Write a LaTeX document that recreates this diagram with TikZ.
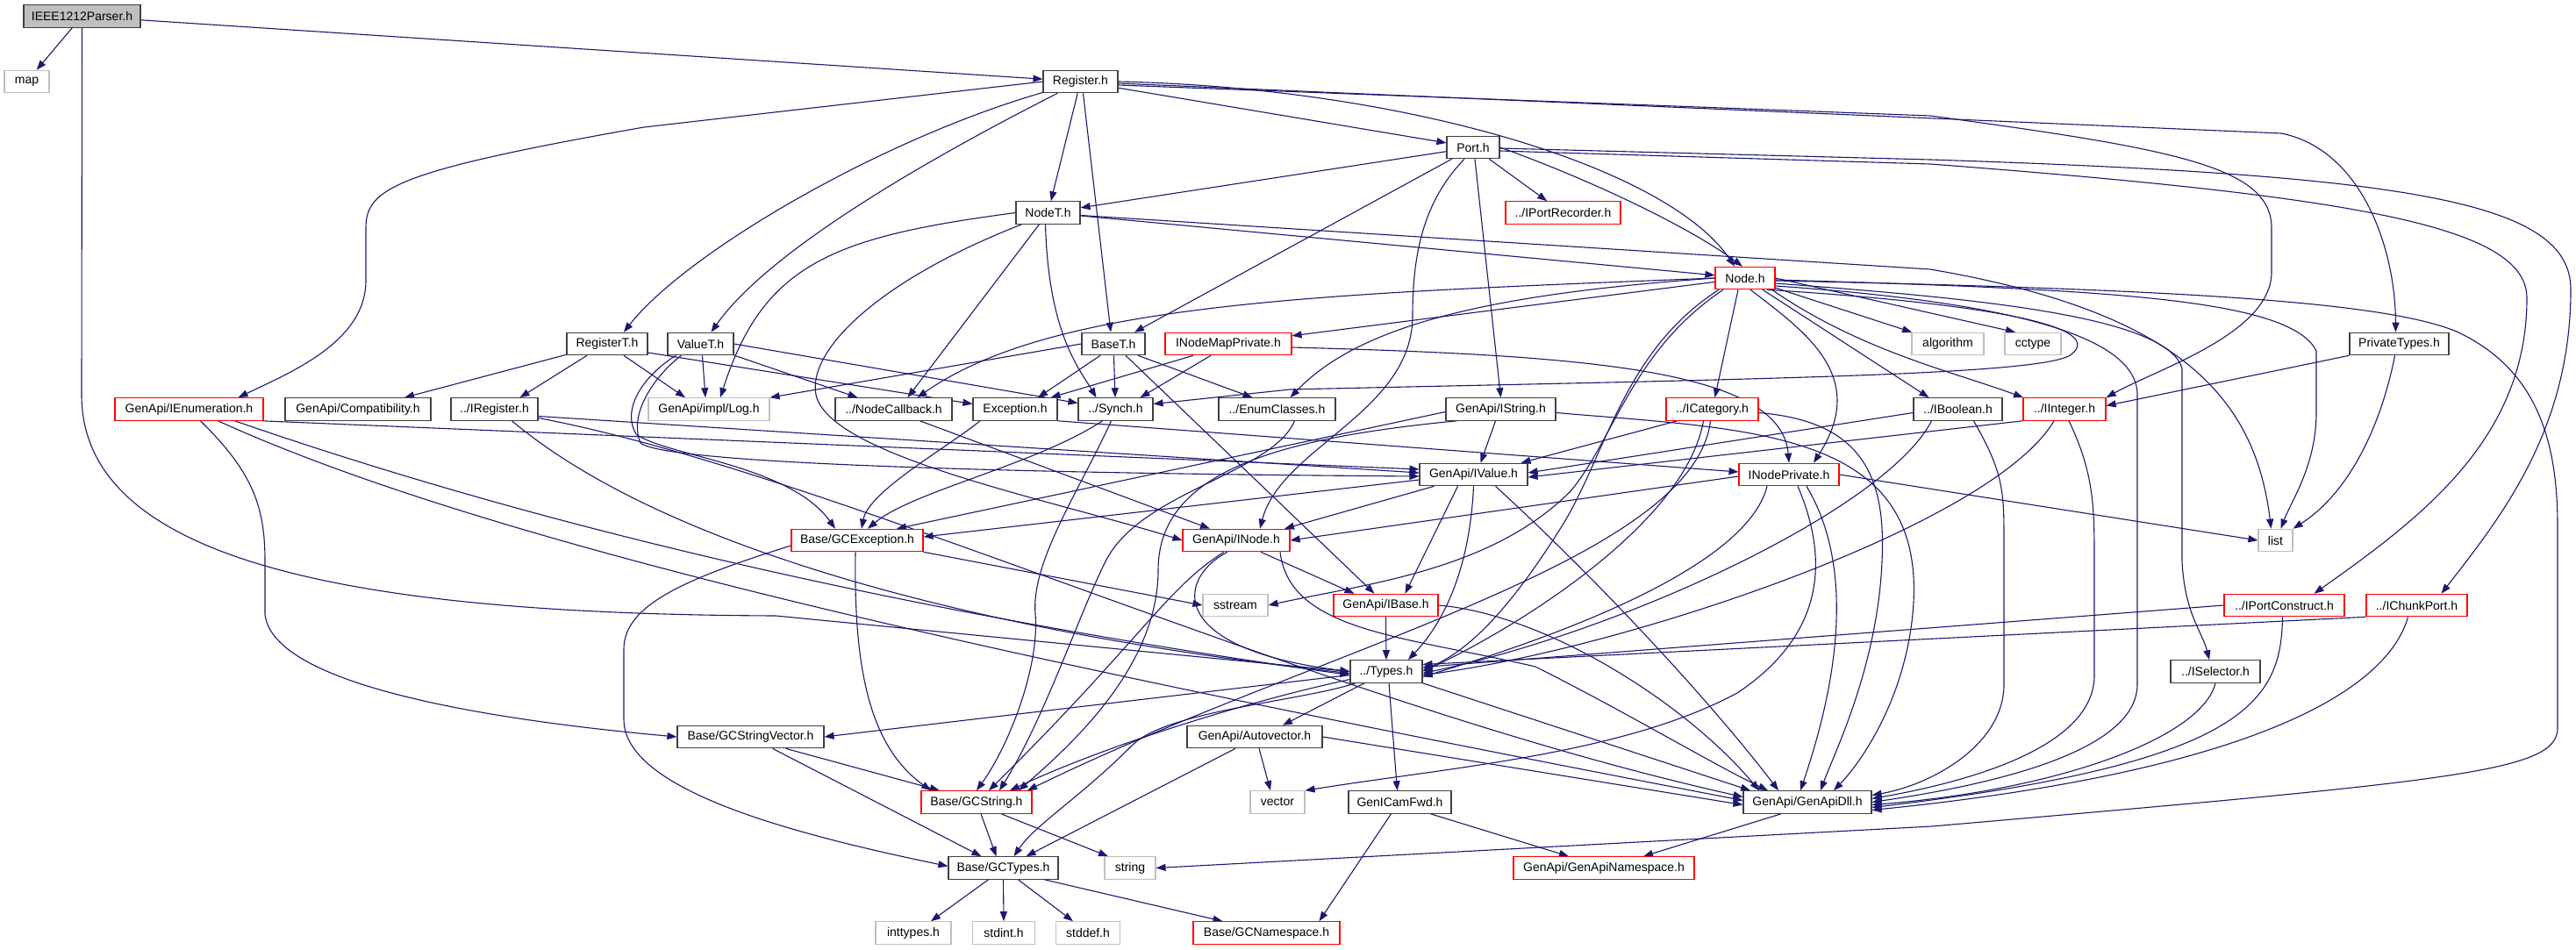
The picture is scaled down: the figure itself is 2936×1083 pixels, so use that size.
\documentclass[tikz,border=0pt]{standalone}
\usepackage{fontspec}
\setmainfont{Liberation Sans}
\usetikzlibrary{arrows.meta}
\definecolor{edgec}{HTML}{191970}
\definecolor{sysc}{HTML}{BFBFBF}
\definecolor{rootc}{HTML}{BFBFBF}
\definecolor{truncc}{HTML}{FF0000}
\newcommand\nodefont{\fontsize{14pt}{16pt}\selectfont}
\pgfdeclarelayer{bg}
\pgfsetlayers{bg,main}
\tikzset{
  nbox/.style={draw=black!75, fill=white, line width=1.1pt, minimum height=25.5pt, inner sep=1pt, font=\nodefont},
  ntrunc/.style={nbox, draw=truncc},
  nsys/.style={nbox, draw=sysc},
  dep/.style={draw=edgec, line width=1.1pt, -{Triangle[length=11pt,width=8pt]}}
}
\begin{document}
\begin{tikzpicture}[x=1pt,y=-1pt]
\useasboundingbox (0,0) rectangle (2936,1083);
% nodes
\node[nbox, fill=rootc, minimum width=133pt] (ieee) at (93.5,18.5) {IEEE1212Parser.h};
\node[nsys, minimum width=51pt] (map) at (30.5,93) {map};
\node[nbox, minimum width=85pt] (reg) at (1231.5,93) {Register.h};
\node[nbox, minimum width=73pt] (nodet) at (1194.5,242.5) {NodeT.h};
\node[nbox, minimum width=60pt] (port) at (1679,168) {Port.h};
\node[ntrunc, minimum width=131pt] (iportrec) at (1781.5,242.5) {../IPortRecorder.h};
\node[ntrunc, minimum width=68pt] (node) at (1989,317) {Node.h};
\node[nbox, minimum width=92pt] (registert) at (692,392) {RegisterT.h};
\node[nbox, minimum width=75pt] (valuet) at (798.5,392) {ValueT.h};
\node[nbox, minimum width=72pt] (baset) at (1269,392) {BaseT.h};
\node[ntrunc, minimum width=144pt] (inodemap) at (1400,392) {INodeMapPrivate.h};
\node[nsys, minimum width=82pt] (algorithm) at (2220,392) {algorithm};
\node[nsys, minimum width=64pt] (cctype) at (2317,392) {cctype};
\node[nbox, minimum width=113pt] (privtypes) at (2734.5,392) {PrivateTypes.h};
\node[ntrunc, minimum width=169pt] (ienum) at (215.5,466.5) {GenApi/IEnumeration.h};
\node[nbox, minimum width=166pt] (compat) at (408,466.5) {GenApi/Compatibility.h};
\node[nbox, minimum width=99pt] (iregister) at (563.5,466.5) {../IRegister.h};
\node[nsys, minimum width=138pt] (log) at (808,466.5) {GenApi/impl/Log.h};
\node[nbox, minimum width=133pt] (nodecb) at (1018.5,466.5) {../NodeCallback.h};
\node[nbox, minimum width=96pt] (exception) at (1157,466.5) {Exception.h};
\node[nbox, minimum width=85pt] (synch) at (1271.5,466.5) {../Synch.h};
\node[nbox, minimum width=133pt] (enumcl) at (1455.5,466.5) {../EnumClasses.h};
\node[nbox, minimum width=125pt] (istring) at (1710.5,466.5) {GenApi/IString.h};
\node[ntrunc, minimum width=105pt] (icategory) at (1951.5,466.5) {../ICategory.h};
\node[nbox, minimum width=101pt] (iboolean) at (2231.5,466.5) {../IBoolean.h};
\node[ntrunc, minimum width=94pt] (iinteger) at (2353,466.5) {../IInteger.h};
\node[nbox, minimum width=123pt] (ivalue) at (1679.5,541) {GenApi/IValue.h};
\node[ntrunc, minimum width=114pt] (inodepriv) at (2039,541) {INodePrivate.h};
\node[ntrunc, minimum width=150pt] (gcexc) at (977,616) {Base/GCException.h};
\node[ntrunc, minimum width=122pt] (inode) at (1409,616) {GenApi/INode.h};
\node[nsys, minimum width=39pt] (list) at (2593.5,616) {list};
\node[nsys, minimum width=74pt] (sstream) at (1408,690) {sstream};
\node[ntrunc, minimum width=119pt] (ibase) at (1579.5,690) {GenApi/IBase.h};
\node[ntrunc, minimum width=137pt] (iportcons) at (2603.5,690) {../IPortConstruct.h};
\node[ntrunc, minimum width=115pt] (ichunk) at (2754.5,690) {../IChunkPort.h};
\node[nbox, minimum width=82pt] (types) at (1580,765.5) {../Types.h};
\node[nbox, minimum width=102pt] (iselector) at (2525,765.5) {../ISelector.h};
\node[nbox, minimum width=167pt] (gcsv) at (855.5,840) {Base/GCStringVector.h};
\node[nbox, minimum width=154pt] (autovec) at (1430,840) {GenApi/Autovector.h};
\node[ntrunc, minimum width=126pt] (gcstring) at (1113,914.5) {Base/GCString.h};
\node[nsys, minimum width=62pt] (vector) at (1456,914.5) {vector};
\node[nbox, minimum width=117pt] (genicamfwd) at (1595.5,914.5) {GenICamFwd.h};
\node[nbox, minimum width=146pt] (genapidll) at (2060,914.5) {GenApi/GenApiDll.h};
\node[nbox, minimum width=125pt] (gctypes) at (1143.5,989.5) {Base/GCTypes.h};
\node[nsys, minimum width=58pt] (string) at (1288,989.5) {string};
\node[ntrunc, minimum width=206pt] (genapins) at (1828,989.5) {GenApi/GenApiNamespace.h};
\node[nsys, minimum width=86pt] (inttypes) at (1041,1063.5) {inttypes.h};
\node[nsys, minimum width=71pt] (stdint) at (1144,1063.5) {stdint.h};
\node[nsys, minimum width=73pt] (stddef) at (1240,1063.5) {stddef.h};
\node[ntrunc, minimum width=167pt] (gcns) at (1443.5,1063.5) {Base/GCNamespace.h};

\begin{pgfonlayer}{bg}
\fill[white] (0,0) rectangle (2936,1083);
% IEEE1212Parser.h
\draw[dep] (ieee) -- (map);
\draw[dep] (ieee) -- (reg);
\draw[dep] (ieee.south) -- (93,450) .. controls (93,640) and (400,700) .. (884,702) -- (types.west);
% Register.h
\draw[dep] (reg.west) -- (734,145) .. controls (450,195) and (417,215) .. (417,260) -- (417,320) .. controls (417,390) and (330,425) .. ([xshift=56pt]ienum.north);
\draw[dep] (reg) .. controls (1000,160) and (780,290) .. ([xshift=19pt]registert.north);
\draw[dep] (reg) .. controls (1080,170) and (880,280) .. ([xshift=12pt]valuet.north);
\draw[dep] (reg) -- (nodet);
\draw[dep] ([xshift=3pt]reg.south) -- ([xshift=-3pt]baset.north);
\draw[dep] (reg) -- (port);
\draw[dep] (reg.east) .. controls (1600,100) and (1900,190) .. ([xshift=-12pt]node.north);
\draw[dep] ([yshift=-2pt]reg.east) -- (2600,152) .. controls (2690,170) and (2730,280) .. ([xshift=-4pt]privtypes.north);
\draw[dep] ([yshift=-4pt]reg.east) -- (2200,132) .. controls (2480,170) and (2589,190) .. (2589,260) -- (2589,310) .. controls (2589,380) and (2460,420) .. (iinteger.north east);
% NodeT.h
\draw[dep] (nodet.west) .. controls (950,270) and (870,300) .. ([xshift=13pt]log.north);
\draw[dep] ([xshift=-30pt]nodet.south) .. controls (1000,320) and (920,400) .. (930,450) .. controls (945,520) and (1200,570) .. (inode.west);
\draw[dep] (nodet) -- ([xshift=16pt]nodecb.north);
\draw[dep] ([xshift=-3pt]nodet.south) .. controls (1195,380) and (1230,420) .. ([xshift=-22pt]synch.north);
\draw[dep] (nodet) -- (node);
\draw[dep] ([yshift=-3pt]nodet.east) -- (2200,307) .. controls (2480,355) and (2570,450) .. ([xshift=-5pt]list.north);
% Port.h
\draw[dep] (port) -- (nodet);
\draw[dep] (port) -- ([xshift=24pt]baset.north);
\draw[dep] (port) -- (iportrec);
\draw[dep] (port.east) .. controls (1800,200) and (1920,255) .. ([xshift=-3pt]node.north);
\draw[dep] ([xshift=2pt]port.south) -- (istring.north);
\draw[dep] ([xshift=-10pt]port.south) .. controls (1622,230) and (1610,290) .. (1610,360) .. controls (1610,470) and (1460,510) .. ([xshift=27pt]inode.north);
\draw[dep] ([yshift=-4pt]port.east) -- (2200,187) .. controls (2700,225) and (2880,260) .. (2880,340) .. controls (2880,500) and (2760,590) .. ([xshift=34pt]iportcons.north);
\draw[dep] ([yshift=-1pt]port.east) -- (2200,182) .. controls (2750,200) and (2930,230) .. (2930,330) .. controls (2930,490) and (2850,590) .. ([xshift=28pt]ichunk.north);
% Node.h
\draw[dep] (node) -- (inodemap);
\draw[dep] (node.west) .. controls (1500,335) and (1200,345) .. ([xshift=27pt]nodecb.north);
\draw[dep] ([xshift=25pt]node.south) .. controls (2250,345) and (2400,370) .. (2362,403) .. controls (2340,428) and (2000,432) .. (1470,444) -- ([yshift=6pt]synch.east);
\draw[dep] (node.west) .. controls (1700,335) and (1550,370) .. ([xshift=15pt]enumcl.north);
\draw[dep] ([xshift=-8pt]node.south) -- ([xshift=3pt]icategory.north);
\draw[dep] ([xshift=6pt]node.south) .. controls (2060,380) and (2130,430) .. ([xshift=28pt]inodepriv.north);
\draw[dep] ([xshift=20pt]node.south) -- ([xshift=-33pt]iboolean.north);
\draw[dep] ([xshift=-4pt]node.south east) .. controls (2120,400) and (2230,425) .. ([xshift=-47pt]iinteger.north);
\draw[dep] (node) -- (algorithm);
\draw[dep] (node.east) -- ([xshift=-20pt]cctype.north);
\draw[dep] ([yshift=-2pt]node.east) .. controls (2400,330) and (2610,340) .. (2640,400) -- (2640,470) .. controls (2640,530) and (2612,570) .. ([xshift=6pt]list.north);
\draw[dep] ([yshift=-6pt]node.east) .. controls (2250,340) and (2470,360) .. (2487,420) -- (2487,640) .. controls (2490,700) and (2510,720) .. ([xshift=-7pt]iselector.north);
\draw[dep] ([yshift=-9pt]node.east) .. controls (2300,345) and (2436,385) .. (2436,450) -- (2436,780) .. controls (2436,850) and (2300,890) .. ([yshift=0pt]genapidll.east);
\draw[dep] ([yshift=-3pt]node.east) .. controls (2500,330) and (2720,345) .. (2800,378) .. controls (2890,420) and (2915,500) .. (2915,600) -- (2915,830) .. controls (2915,880) and (2800,890) .. (2202,942) -- (string.east);
\draw[dep] ([xshift=-30pt]node.south) .. controls (1850,400) and (1830,520) .. (1780,600) .. controls (1730,680) and (1680,740) .. ([yshift=2pt]types.east);
\draw[dep] ([xshift=-25pt]node.south) .. controls (1860,400) and (1840,500) .. (1790,560) .. controls (1700,650) and (1560,665) .. (sstream.east);
% RegisterT.h
\draw[dep] (registert) -- ([xshift=53pt]compat.north);
\draw[dep] ([xshift=-23pt]registert.south) -- ([xshift=29pt]iregister.north);
\draw[dep] ([xshift=19pt]registert.south) -- ([xshift=-27pt]log.north);
\draw[dep] ([yshift=-10pt]registert.east) -- ([yshift=6pt]exception.west);
% ValueT.h
\draw[dep] ([xshift=2pt]valuet.south) -- ([xshift=-4pt]log.north);
\draw[dep] (valuet) -- ([xshift=-41pt]nodecb.north);
\draw[dep] (valuet.east) -- ([yshift=7pt]synch.west);
\draw[dep] ([xshift=-28pt]valuet.south) .. controls (745,420) and (705,460) .. (725,495) .. controls (760,520) and (900,530) .. ([xshift=-25pt]gcexc.north);
\draw[dep] ([xshift=-22pt]valuet.south) .. controls (750,425) and (715,470) .. (730,505) .. controls (760,530) and (1200,540) .. ([yshift=-2pt]ivalue.west);
% BaseT.h
\draw[dep] (baset.west) -- (log.north east);
\draw[dep] ([xshift=-15pt]baset.south) -- ([xshift=26pt]exception.north);
\draw[dep] (baset) -- (synch);
\draw[dep] ([xshift=28pt]baset.south) -- ([xshift=-28pt]enumcl.north);
\draw[dep] ([xshift=14pt]baset.south) -- ([xshift=-13pt]ibase.north);
% INodeMapPrivate.h
\draw[dep] ([xshift=-40pt]inodemap.south) -- ([xshift=-8pt]exception.north east);
\draw[dep] ([xshift=-20pt]inodemap.south) -- ([xshift=28pt]synch.north);
\draw[dep] ([yshift=-4pt]inodemap.east) .. controls (1800,405) and (2030,420) .. (inodepriv.north);
% GenApi/IEnumeration.h
\draw[dep] ([xshift=-2pt]ienum.south east) -- ([yshift=6pt]ivalue.west);
\draw[dep] ([xshift=52pt]ienum.south) .. controls (500,560) and (900,680) .. ([yshift=-4pt]types.west);
\draw[dep] ([xshift=33pt]ienum.south) .. controls (600,640) and (1300,780) .. ([yshift=2pt]genapidll.west);
\draw[dep] ([xshift=13pt]ienum.south) .. controls (290,540) and (302,580) .. (302,640) -- (302,700) .. controls (310,780) and (550,820) .. (gcsv.west);
% ../IRegister.h
\draw[dep] ([yshift=-8pt]iregister.east) -- ([yshift=2pt]ivalue.west);
\draw[dep] ([xshift=20pt]iregister.south) .. controls (750,620) and (1100,720) .. ([yshift=-2pt]types.west);
\draw[dep] ([yshift=-10pt]iregister.east) .. controls (950,540) and (1500,800) .. ([yshift=6pt]genapidll.west);
% ../NodeCallback.h
\draw[dep] ([xshift=30pt]nodecb.south) -- ([xshift=-30pt]inode.north);
% Exception.h
\draw[dep] ([xshift=-40pt]exception.south) .. controls (1080,510) and (990,560) .. ([xshift=5pt]gcexc.north);
\draw[dep] (exception.south east) -- ([yshift=3pt]inodepriv.west);
% ../Synch.h
\draw[dep] ([xshift=-15pt]synch.south) .. controls (1180,530) and (1040,560) .. ([xshift=12pt]gcexc.north);
\draw[dep] ([xshift=-5pt]synch.south) .. controls (1230,560) and (1175,640) .. (1180,700) .. controls (1185,760) and (1150,850) .. (gcstring.north);
% ../EnumClasses.h
\draw[dep] ([xshift=20pt]enumcl.south) .. controls (1450,540) and (1300,560) .. (1260,640) .. controls (1230,700) and (1190,820) .. ([xshift=26pt]gcstring.north);
% GenApi/IString.h
\draw[dep] ([xshift=-6pt]istring.south) -- ([xshift=8pt]ivalue.north);
\draw[dep] ([yshift=-3pt]istring.west) -- ([xshift=45pt]gcexc.north);
\draw[dep] ([xshift=-50pt]istring.south) .. controls (1450,500) and (1320,540) .. (1320,650) .. controls (1320,760) and (1220,850) .. ([xshift=48pt]gcstring.north);
\draw[dep] ([yshift=-4pt]istring.east) .. controls (2000,490) and (2200,490) .. (2180,700) .. controls (2170,800) and (2120,870) .. ([xshift=30pt]genapidll.north);
% ../ICategory.h
\draw[dep] ([xshift=-40pt]icategory.south) -- ([xshift=-8pt]ivalue.north east);
\draw[dep] ([xshift=-10pt]icategory.south) .. controls (1920,600) and (1720,720) .. (types.east);
\draw[dep] ([xshift=-2pt]icategory.south) .. controls (1930,640) and (1500,740) .. ([xshift=58pt]gcstring.north);
\draw[dep] ([yshift=-4pt]icategory.east) .. controls (2120,480) and (2150,540) .. (2145,640) .. controls (2140,760) and (2090,860) .. ([xshift=15pt]genapidll.north);
% ../IBoolean.h
\draw[dep] ([yshift=-4pt]iboolean.west) -- ([yshift=2pt]ivalue.east);
\draw[dep] ([xshift=-30pt]iboolean.south) .. controls (2150,580) and (1850,720) .. ([yshift=-2pt]types.east);
\draw[dep] ([xshift=18pt]iboolean.south) .. controls (2284,540) and (2284,560) .. (2284,620) -- (2284,780) .. controls (2284,850) and (2200,895) .. ([yshift=8pt]genapidll.east);
% ../IInteger.h
\draw[dep] (iinteger.south west) -- ([yshift=-3pt]ivalue.east);
\draw[dep] ([xshift=-12pt]iinteger.south) .. controls (2270,600) and (1850,740) .. ([yshift=-4pt]types.east);
\draw[dep] ([xshift=5pt]iinteger.south) .. controls (2387,540) and (2387,580) .. (2387,640) -- (2387,770) .. controls (2387,850) and (2250,890) .. ([yshift=4pt]genapidll.east);
% PrivateTypes.h
\draw[dep] (privtypes.south west) -- ([yshift=4pt]iinteger.east);
\draw[dep] ([xshift=-5pt]privtypes.south) .. controls (2715,480) and (2680,560) .. (list.north east);
% INodePrivate.h
\draw[dep] ([yshift=-2pt]inodepriv.west) -- (inode.east);
\draw[dep] (inodepriv.east) -- (list.west);
\draw[dep] ([xshift=-25pt]inodepriv.south) .. controls (1990,650) and (1760,730) .. ([yshift=-6pt]types.east);
\draw[dep] ([xshift=10pt]inodepriv.south) .. controls (2090,650) and (2070,730) .. (1980,790) .. controls (1850,860) and (1650,875) .. (vector.north east);
\draw[dep] ([xshift=20pt]inodepriv.south) .. controls (2110,640) and (2100,760) .. ([xshift=-8pt]genapidll.north);
% ../ISelector.h, ../IPortConstruct.h, ../IChunkPort.h
\draw[dep] (iselector.south) .. controls (2510,840) and (2350,900) .. ([yshift=-3pt]genapidll.east);
\draw[dep] (iportcons.west) -- ([yshift=5pt]types.east);
\draw[dep] ([xshift=-2pt]iportcons.south) .. controls (2600,800) and (2560,870) .. ([yshift=-6pt]genapidll.east);
\draw[dep] (ichunk.south west) -- ([yshift=8pt]types.east);
\draw[dep] ([xshift=-10pt]ichunk.south) .. controls (2720,790) and (2560,880) .. ([yshift=-9pt]genapidll.east);
% Base/GCException.h
\draw[dep] ([xshift=-2pt]gcexc.south) .. controls (973,760) and (990,850) .. ([xshift=-52pt]gcstring.north);
\draw[dep] ([yshift=-6pt]gcexc.west) .. controls (780,660) and (711,690) .. (711,740) -- (711,820) .. controls (711,900) and (900,950) .. ([yshift=2pt]gctypes.west);
\draw[dep] (gcexc.south east) -- (sstream.west);
% GenApi/INode.h
\draw[dep] ([xshift=28pt]inode.south) -- ([xshift=-36pt]ibase.north);
\draw[dep] ([xshift=-10pt]inode.south) .. controls (1340,660) and (1330,740) .. (types.west);
\draw[dep] ([xshift=-14pt]inode.south) .. controls (1330,670) and (1300,730) .. ([xshift=14pt]gcstring.north);
\draw[dep] ([xshift=50pt]inode.south) .. controls (1470,720) and (1600,725) .. (1750,760) .. controls (1850,810) and (1950,870) .. ([xshift=-45pt]genapidll.north);
% GenApi/IValue.h
\draw[dep] ([yshift=-6pt]ivalue.west) -- ([yshift=4pt]gcexc.east);
\draw[dep] ([xshift=-45pt]ivalue.south) -- ([xshift=55pt]inode.north);
\draw[dep] ([xshift=-18pt]ivalue.south) -- ([xshift=22pt]ibase.north);
\draw[dep] (ivalue.south) .. controls (1675,650) and (1645,710) .. ([xshift=25pt]types.north);
\draw[dep] ([xshift=25pt]ivalue.south) .. controls (1820,660) and (1950,800) .. ([xshift=-33pt]genapidll.north);
% GenApi/IBase.h
\draw[dep] (ibase.south) -- (types.north);
\draw[dep] (ibase.east) .. controls (1760,700) and (1920,800) .. ([xshift=-55pt]genapidll.north);
% ../Types.h
\draw[dep] ([yshift=-4pt]types.west) -- (gcsv.east);
\draw[dep] ([yshift=-9pt]types.west) .. controls (1420,800) and (1260,850) .. ([xshift=38pt]gcstring.north);
\draw[dep] ([xshift=-35pt]types.south) .. controls (1480,800) and (1330,810) .. (1290,850) .. controls (1230,910) and (1180,940) .. ([xshift=12pt]gctypes.north);
\draw[dep] ([xshift=-25pt]types.south) -- ([xshift=32pt]autovec.north);
\draw[dep] ([xshift=3pt]types.south) -- ([xshift=-3pt]genicamfwd.north);
\draw[dep] (types.south east) -- ([xshift=-65pt]genapidll.north);
% GenApi/Autovector.h
\draw[dep] ([xshift=5pt]autovec.south) -- ([xshift=-8pt]vector.north);
\draw[dep] ([xshift=-22pt]autovec.south) -- ([xshift=26pt]gctypes.north);
\draw[dep] (autovec.east) -- ([yshift=-3pt]genapidll.west);
% GenICamFwd.h, GenApiDll.h
\draw[dep] ([xshift=35pt]genicamfwd.south) -- ([xshift=-40pt]genapins.north);
\draw[dep] ([xshift=-10pt]genicamfwd.south) -- ([xshift=60pt]gcns.north);
\draw[dep] ([xshift=-30pt]genapidll.south) -- ([xshift=45pt]genapins.north);
% Base/GCStringVector.h, Base/GCString.h, Base/GCTypes.h
\draw[dep] ([xshift=40pt]gcsv.south) -- ([xshift=-42pt]gcstring.north);
\draw[dep] ([xshift=25pt]gcsv.south) -- ([xshift=-25pt]gctypes.north);
\draw[dep] ([xshift=5pt]gcstring.south) -- ([xshift=-8pt]gctypes.north);
\draw[dep] ([xshift=28pt]gcstring.south) -- ([xshift=-25pt]string.north);
\draw[dep] ([xshift=-17pt]gctypes.south) -- ([xshift=20pt]inttypes.north);
\draw[dep] (gctypes.south) -- (stdint.north);
\draw[dep] ([xshift=17pt]gctypes.south) -- ([xshift=-17pt]stddef.north);
\draw[dep] ([xshift=47pt]gctypes.south) -- ([xshift=-50pt]gcns.north);
\end{pgfonlayer}
\end{tikzpicture}
\end{document}
